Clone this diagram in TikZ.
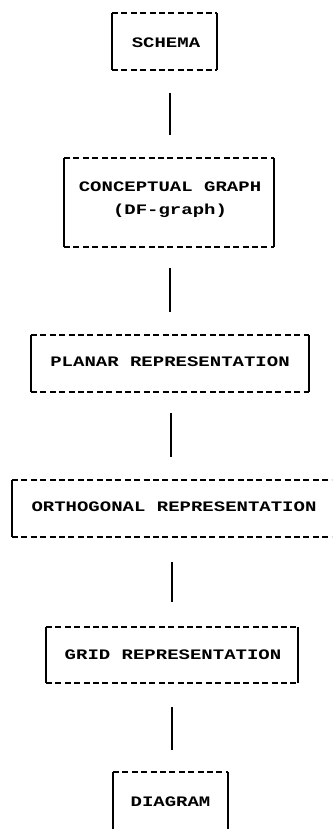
\documentclass[tikz,border=0pt]{standalone}
\usepackage{fontspec}
\newfontfamily\printfont[FakeStretch=1.31]{Liberation Mono Bold}
\begin{document}
\begin{tikzpicture}[x=1pt,y=-1pt,
  stage/.style={inner sep=0pt, outer sep=0pt, align=center,
    font=\printfont\fontsize{14.5}{24}\selectfont},
  dashline/.style={line width=2pt, dash pattern=on 6pt off 3.4pt},
  barline/.style={line width=2.4pt},
  link/.style={line width=2.4pt}]
\useasboundingbox (0,0) rectangle (332,829);
\clip (0,0) rectangle (332,829);

% box edges: dashed top and bottom, solid sides
\newcommand\stageframe[1]{%
  \draw[dashline] (#1.north west) -- (#1.north east);
  \draw[dashline] (#1.south west) -- (#1.south east);
  \draw[barline] (#1.north west) -- (#1.south west);
  \draw[barline] (#1.north east) -- (#1.south east);}

\node[stage, minimum width=105, minimum height=57] (schema) at (164.5,41.5) {};
\node[stage] at (166,43) {SCHEMA};

\node[stage, minimum width=210, minimum height=89] (concept) at (169,202.5) {};
\node[stage] at (170,187) {CONCEPTUAL GRAPH};
\node[stage] at (170,211) {(DF-graph)};

\node[stage, minimum width=278, minimum height=57] (planar) at (170,363.5) {};
\node[stage] at (170,362) {PLANAR REPRESENTATION};

% the widest box runs off the right margin
\node[stage, minimum width=324, minimum height=57] (ortho) at (174,508.5) {};
\node[stage] at (174,507) {ORTHOGONAL REPRESENTATION};

\node[stage, minimum width=252, minimum height=56] (grid) at (172,655) {};
\node[stage] at (173,655) {GRID REPRESENTATION};

\node[stage, minimum width=115, minimum height=66] (diagram) at (170.5,805) {};
\node[stage] at (170.5,802) {DIAGRAM};

\foreach \n in {schema,concept,planar,ortho,grid,diagram} {\stageframe{\n}}

% connectors leave a gap of about 22pt at each box
\draw[link] ([xshift=5.5,yshift=-23]schema.south) -- ([xshift=1,yshift=23]concept.north);
\draw[link] ([xshift=1,yshift=-21]concept.south) -- ([yshift=23]planar.north);
\draw[link] ([xshift=1,yshift=-21]planar.south) -- ([xshift=-3,yshift=23]ortho.north);
\draw[link] ([xshift=-2,yshift=-25]ortho.south) -- ([yshift=25]grid.north);
\draw[link] ([yshift=-24]grid.south) -- ([xshift=1.5,yshift=22]diagram.north);
\end{tikzpicture}
\end{document}
